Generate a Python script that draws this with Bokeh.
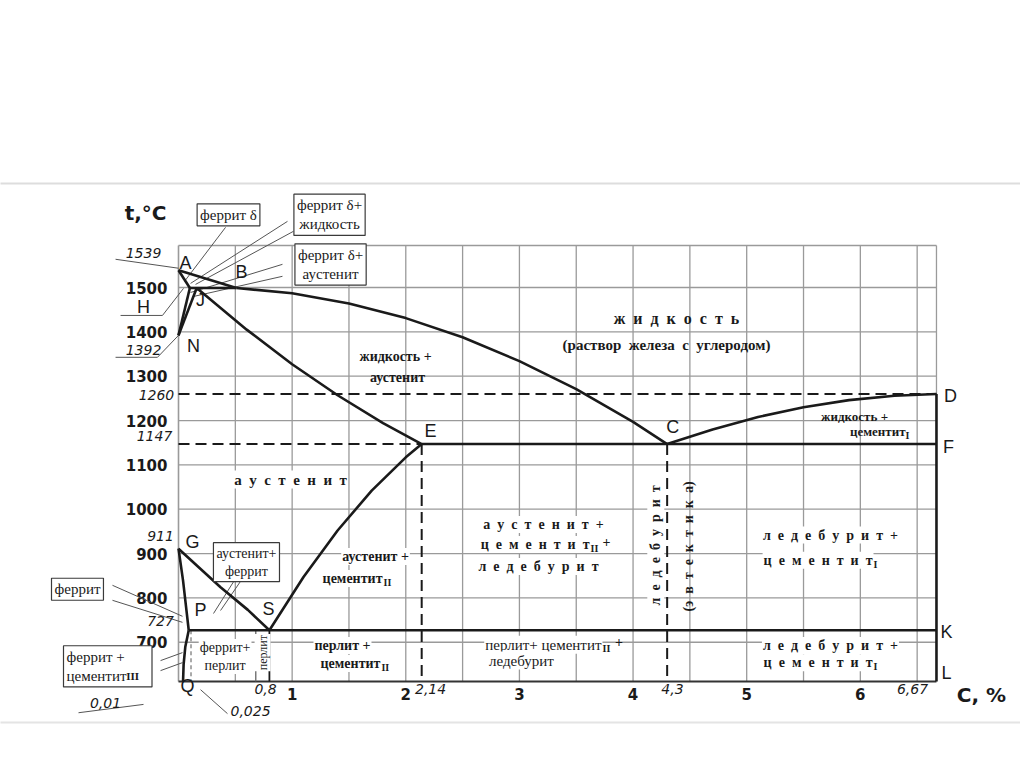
import math
from bokeh.plotting import figure
from bokeh.models import Range1d, Label
from bokeh.core.properties import value
from bokeh.embed import file_html
from bokeh.resources import INLINE

# ---------------- data (carbon, wt.% ; temperature, °C) ----------------
temp_ticks = [700, 800, 900, 1000, 1100, 1200, 1300, 1400, 1500]
carbon_ticks = [1, 2, 3, 4, 5, 6]
carbon_grid = [0.5, 1.0, 1.5, 2.0, 2.5, 3.0, 3.5, 4.0, 4.5, 5.0, 5.5, 6.0, 6.5]
C_MIN, C_MAX = 0.0, 6.67          # diagram extent, wt.% C
T_MIN, T_MAX = 611.5, 1594.8      # diagram extent, °C

# phase boundaries
liq_ab_c = [0.0, 0.51]
liq_ab_t = [1539, 1499]
liq_bc_c = [0.51, 1.0, 1.5, 2.0, 2.5, 3.0, 3.5, 4.0, 4.3]
liq_bc_t = [1499, 1487, 1464, 1431, 1388, 1334, 1271, 1197, 1147]
liq_cd_c = [4.3, 4.7, 5.1, 5.5, 5.9, 6.3, 6.67]
liq_cd_t = [1147, 1180, 1208, 1230, 1246, 1256, 1260]
sol_ah_c = [0.0, 0.1]
sol_ah_t = [1539, 1499]
hjb_c = [0.1, 0.51]
hjb_t = [1499, 1499]
hn_c = [0.1, 0.0]
hn_t = [1499, 1392]
jn_c = [0.16, 0.0]
jn_t = [1499, 1392]
sol_je_c = [0.16, 0.6, 1.0, 1.4, 1.8, 2.14]
sol_je_t = [1499, 1405, 1327, 1257, 1194, 1147]
ecf_c = [2.14, 6.67]
ecf_t = [1147, 1147]
gs_c = [0.0, 0.37, 0.61, 0.8]
gs_t = [911, 824, 773, 727]
gp_c = [0.0, 0.04, 0.07, 0.09]
gp_t = [911, 839, 772, 727]
pq_c = [0.09, 0.06, 0.045, 0.04]
pq_t = [727, 690, 650, T_MIN]
se_c = [0.8, 1.1, 1.4, 1.7, 2.0, 2.14]
se_t = [727, 847, 952, 1042, 1117, 1147]
psk_c = [0.09, 6.67]
psk_t = [727, 727]
dl_c = [6.67, 6.67]
dl_t = [1260, T_MIN]
s_down_c = [0.8, 0.8]
s_down_t = [727, T_MIN]
pearlite_edge_c = [0.68, 0.68]
pearlite_edge_t = [727, T_MIN]

# dashed reference lines
d1260_c = [0.0, 6.67]
d1260_t = [1260, 1260]
d1147_c = [0.0, 2.14]
d1147_t = [1147, 1147]
de_c = [2.14, 2.14]
de_t = [1147, T_MIN]
dc_c = [4.3, 4.3]
dc_t = [1147, T_MIN]
dq_c = [0.11, 0.11]
dq_t = [727, T_MIN]

INK = "#1a1a1a"
GRID = "#9a9a9a"
SERIF = "Liberation Serif"
SANS = "Liberation Sans"
DSANS = "DejaVu Sans"
SP = "\u00a0 "
NB = "\u00a0"


def spaced(s):
    return SP.join(s)


# the whole canvas is the data frame, so that every text around the diagram is visible
p = figure(width=1020, height=760, title=None,
           x_range=Range1d(-1.5664, 7.4094), y_range=Range1d(433.3, 2147.3),
           x_axis_location=None, y_axis_location=None,
           output_backend="svg", toolbar_location=None, min_border=0)
p.background_fill_color = "white"
p.border_fill_color = "white"
p.outline_line_color = None
p.grid.visible = False

# slide separator lines
p.line([-1.6, 7.5], [1734.6, 1734.6], line_color="#dddddd", line_width=2)
p.line([-1.6, 7.5], [519.0, 519.0], line_color="#e4e4e4", line_width=2)

# grid (0.5 % C by 100 °C) and frame
p.segment(x0=carbon_grid, y0=[T_MIN] * len(carbon_grid), x1=carbon_grid,
          y1=[T_MAX] * len(carbon_grid), line_color=GRID, line_width=1.3)
p.segment(x0=[C_MIN] * len(temp_ticks), y0=temp_ticks, x1=[C_MAX] * len(temp_ticks),
          y1=temp_ticks, line_color=GRID, line_width=1.3)
p.line([C_MIN, C_MAX], [T_MAX, T_MAX], line_color=GRID, line_width=1.5)
p.line([C_MIN, C_MIN], [T_MIN, T_MAX], line_color=GRID, line_width=1.6)
p.line([C_MAX, C_MAX], [1260, T_MAX], line_color=GRID, line_width=1.3)
p.line([C_MIN, C_MAX], [T_MIN, T_MIN], line_color="#333333", line_width=1.8)

# tick labels
p.text(x=[-0.097] * len(temp_ticks), y=temp_ticks, text=[str(t) for t in temp_ticks],
       text_font=value(DSANS), text_font_style="bold", text_font_size="15px",
       text_align="right", text_baseline="middle", text_color=INK)
p.text(x=carbon_ticks, y=[584.4] * len(carbon_ticks), text=[str(c) for c in carbon_ticks],
       text_font=value(DSANS), text_font_style="bold", text_font_size="15px",
       text_align="center", text_baseline="middle", text_color=INK)

# thin lines
p.line(pearlite_edge_c, pearlite_edge_t, line_color="#666666", line_width=1.3)
p.line(dq_c, dq_t, line_color="#555555", line_width=1, line_dash="4 3")

# dashed lines
for xs, ys in ((d1260_c, d1260_t), (d1147_c, d1147_t), (de_c, de_t), (dc_c, dc_t)):
    p.line(xs, ys, line_color=INK, line_width=2.0, line_dash="11 6")


def leader(x0, y0, x1, y1, color="#555555", width=1.0):
    p.line([x0, x1], [y0, y1], line_color=color, line_width=width)


# leader lines
leader(-0.554, 1563.7, 0.0, 1543.5)
leader(-0.51, 1437, -0.141, 1437)
leader(-0.141, 1437, 0.044, 1498)
leader(-0.554, 1342.6, -0.185, 1342.6)
leader(-0.185, 1342.6, 0.0, 1392)
leader(0.414, 1635.7, 0.053, 1513.9)
leader(0.959, 1649.2, 0.106, 1509.3)
leader(1.012, 1626.8, 0.150, 1507.0)
leader(0.915, 1552.3, 0.106, 1488.8)
leader(0.915, 1525.3, 0.132, 1479.8)
leader(-0.581, 828.4, 0.035, 758.5)
leader(-0.581, 794.6, 0.035, 744.9)
leader(-0.158, 658.6, 0.035, 676.6)
leader(-0.158, 636.0, 0.035, 654.0)
leader(0.519, 850.5, 0.308, 764.8)
leader(0.581, 850.5, 0.37, 771.6)
leader(-0.88, 541, -0.308, 559.8)
leader(0.194, 593, 0.431, 539)

# solid phase lines
solid = [(liq_ab_c, liq_ab_t), (liq_bc_c, liq_bc_t), (liq_cd_c, liq_cd_t),
         (sol_ah_c, sol_ah_t), (hjb_c, hjb_t), (hn_c, hn_t), (jn_c, jn_t),
         (sol_je_c, sol_je_t), (ecf_c, ecf_t), (gs_c, gs_t), (gp_c, gp_t),
         (pq_c, pq_t), (se_c, se_t), (psk_c, psk_t), (dl_c, dl_t)]
for xs, ys in solid:
    p.line(xs, ys, line_color=INK, line_width=2.6, line_join="round")
p.line(s_down_c, s_down_t, line_color=INK, line_width=1.8)


def label(x, y, text, size=14, font=SERIF, style="normal", align="center",
          baseline="middle", angle=0.0, box=False, bg=False, color=INK):
    kw = {}
    if box:
        kw.update(border_line_color="#3a3a3a", border_line_width=1.2,
                  background_fill_color="white", padding=3)
    elif bg:
        kw.update(background_fill_color="white", padding=1)
    p.add_layout(Label(x=x, y=y, text=text, text_font=font,
                       text_font_size=f"{size}px", text_font_style=style,
                       text_align=align, text_baseline=baseline, angle=angle,
                       text_color=color, **kw))


def sub(x, y, s, size=10):
    label(x, y - 11, s, size=size, style="bold", align="left")


# axis titles
label(-0.29, 1667, "t,°C", size=20, font=DSANS, style="bold")
label(7.066, 580, "C, %", size=20, font=DSANS, style="bold")

# italic special values
for x, y, s in [(-0.308, 1577, "1539"), (-0.308, 1358, "1392"), (-0.194, 1258.7, "1260"),
                (-0.211, 1166, "1147"), (-0.158, 938.6, "911"), (-0.158, 747.2, "727"),
                (0.766, 595.6, "0,8"), (2.218, 595.6, "2,14"), (4.347, 595.6, "4,3"),
                (6.459, 595.6, "6,67"), (-0.642, 564, "0,01"), (0.634, 546, "0,025")]:
    label(x, y, s, size=14, font=DSANS, style="italic")

# point letters
for x, y, s in [(0.062, 1556, "A"), (0.554, 1535, "B"), (-0.308, 1457, "H"),
                (0.194, 1472, "J"), (0.132, 1369, "N"), (2.218, 1176, "E"),
                (4.35, 1185.5, "C"), (6.793, 1255, "D"), (6.776, 1140.4, "F"),
                (6.758, 724, "K"), (6.758, 631.6, "L"), (0.123, 927, "G"),
                (0.194, 771.6, "P"), (0.792, 776, "S"), (0.079, 601, "Q")]:
    label(x, y, s, size=18, font=SANS)

# boxed labels
label(0.44, 1664, "феррит δ", size=15, box=True)
label(1.329, 1664, "феррит δ+\nжидкость", size=15, box=True)
label(1.338, 1552, "феррит δ+\nаустенит", size=15, box=True)
label(0.598, 880.5, "аустенит+\nферрит", size=14, box=True)
label(-0.889, 819.5, "феррит", size=15, box=True)
label(-1.012, 645.6, "феррит +\nцементит" + NB * 6, size=15, align="left", box=True)
sub(-0.46, 634, "III", size=11)

# region labels
label(4.382, 1430, spaced("жидкость"), size=16, style="bold")
label(4.294, 1369.3, "(раствор" + SP + "железа" + SP + "с" + SP + "углеродом)", size=15, style="bold")
label(1.91, 1344.5, "жидкость +", size=14, style="bold")
label(1.927, 1297, "аустенит", size=14, style="bold")
label(5.949, 1209, "жидкость +", size=13, style="bold")
label(6.398, 1175, "цементит", size=13, style="bold", align="right")
sub(6.398, 1178, "I")
label(0.986, 1067, spaced("аустенит"), size=15, style="bold", bg=True)

label(3.212, 965.5, spaced("аустенит") + SP + "+", size=14, style="bold", bg=True)
label(3.626, 920.4, spaced("цементит"), size=14, style="bold", align="right", bg=True)
sub(3.626, 922, "II")
label(3.73, 925, "+", size=14, style="bold", align="left")
label(3.168, 870.6, spaced("ледебурит"), size=14, style="bold", bg=True)

label(5.737, 941.7, spaced("ледебурит+"), size=14, style="bold", bg=True)
label(6.116, 885, spaced("цементит"), size=14, style="bold", align="right", bg=True)
sub(6.116, 887, "I")
label(5.737, 692.4, spaced("ледебурит+"), size=14, style="bold", bg=True)
label(6.116, 654, spaced("цементит"), size=14, style="bold", align="right", bg=True)
sub(6.116, 656, "I")

label(1.734, 893.4, "аустенит +", size=14, style="bold", bg=True)
label(1.804, 843.8, "цементит", size=14, style="bold", align="right", bg=True)
sub(1.804, 846, "II")

label(1.443, 692.4, "перлит +", size=14, style="bold", bg=True)
label(1.786, 651.8, "цементит", size=14, style="bold", align="right", bg=True)
sub(1.786, 654, "II")

label(3.731, 694.6, "перлит+ цементит", size=15, align="right", bg=True)
sub(3.731, 697, "II")
label(3.84, 700, "+", size=14, style="bold", align="left")
label(3.018, 658.6, "ледебурит", size=15, bg=True)

label(4.2, 918.4, spaced("ледебурит"), size=14, style="bold", angle=math.pi / 2, bg=True)
label(4.49, 916, "(" + spaced("эвтектика") + ")", size=14, style="bold", angle=math.pi / 2)

label(0.41, 667.6, "феррит+\nперлит", size=14, bg=True)
label(0.74, 676.6, "перлит", size=12, angle=math.pi / 2, bg=True)

open("out.html", "w").write(file_html(p, INLINE))
